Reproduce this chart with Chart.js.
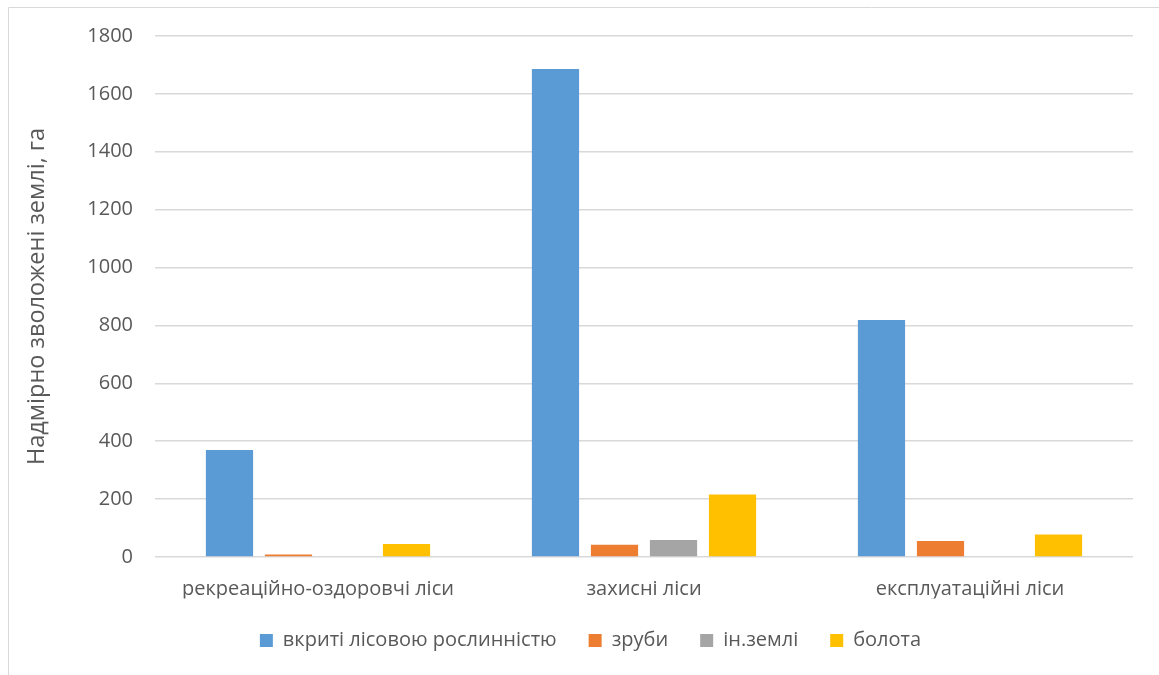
<!DOCTYPE html>
<html>
<head>
<meta charset="utf-8">
<script src="https://cdn.jsdelivr.net/npm/chart.js@4/dist/chart.umd.min.js"></script>
<style>
  html, body { margin: 0; padding: 0; background: #fff; }
  #wrap { width: 1159px; height: 675px; position: relative; }
</style>
</head>
<body>
<div id="wrap"><canvas id="chart" width="1159" height="675"></canvas></div>
<script>
const categories = ["рекреаційно-оздоровчі ліси", "захисні ліси", "експлуатаційні ліси"];
const seriesNames = ["вкриті лісовою рослинністю", "зруби", "ін.землі", "болота"];
const covered = [370, 1686, 819];
const clearings = [9, 42, 55];
const otherLand = [0, 59, 0];
const swamps = [45, 216, 78];
const colors = ["#5B9BD5", "#ED7D31", "#A5A5A5", "#FFC000"];

const FONT = "'Open Sans', 'Noto Sans', sans-serif";
const TEXT = "#595959";

// frame lines along the top and left of the chart
const frame = {
  id: "frame",
  beforeDraw(chart) {
    const c = chart.ctx;
    c.save();
    c.strokeStyle = "#d9d9d9";
    c.lineWidth = 1;
    c.beginPath();
    c.moveTo(8.5, chart.height);
    c.lineTo(8.5, 7.5);
    c.lineTo(chart.width, 7.5);
    c.stroke();
    c.restore();
  },
};

const ctx = document.getElementById("chart").getContext("2d");

new Chart(ctx, {
  type: "bar",
  data: {
    labels: categories,
    datasets: [covered, clearings, otherLand, swamps].map((data, i) => ({
      label: seriesNames[i],
      data: data,
      backgroundColor: colors[i],
      categoryPercentage: 0.724,
      barPercentage: 0.8,
    })),
  },
  options: {
    responsive: false,
    animation: false,
    layout: { padding: { left: 48, right: 26, top: 36, bottom: 14.5 } },
    plugins: {
      legend: {
        position: "bottom",
        labels: {
          color: TEXT,
          font: { family: FONT, size: 20 },
          boxWidth: 13,
          boxHeight: 13,
          padding: 32,
        },
      },
      tooltip: { enabled: false },
    },
    scales: {
      x: {
        grid: { display: false },
        border: { display: false },
        ticks: { color: TEXT, font: { family: FONT, size: 20 }, padding: 12 },
        afterFit: (scale) => { scale.height = 41.5; },
      },
      y: {
        min: 0,
        max: 1800,
        ticks: {
          stepSize: 200,
          color: TEXT,
          font: { family: FONT, size: 20 },
          padding: 22,
          callback: (v) => String(v),
        },
        grid: { color: "#d9d9d9", lineWidth: 1.5, drawTicks: false },
        border: { display: false },
        title: {
          display: true,
          text: "Надмірно зволожені землі, га",
          color: TEXT,
          font: { family: FONT, size: 23.5 },
          padding: { top: -25, bottom: 0 },
        },
        afterFit: (scale) => { scale.width = 107; },
      },
    },
  },
  plugins: [frame],
});
</script>
</body>
</html>
